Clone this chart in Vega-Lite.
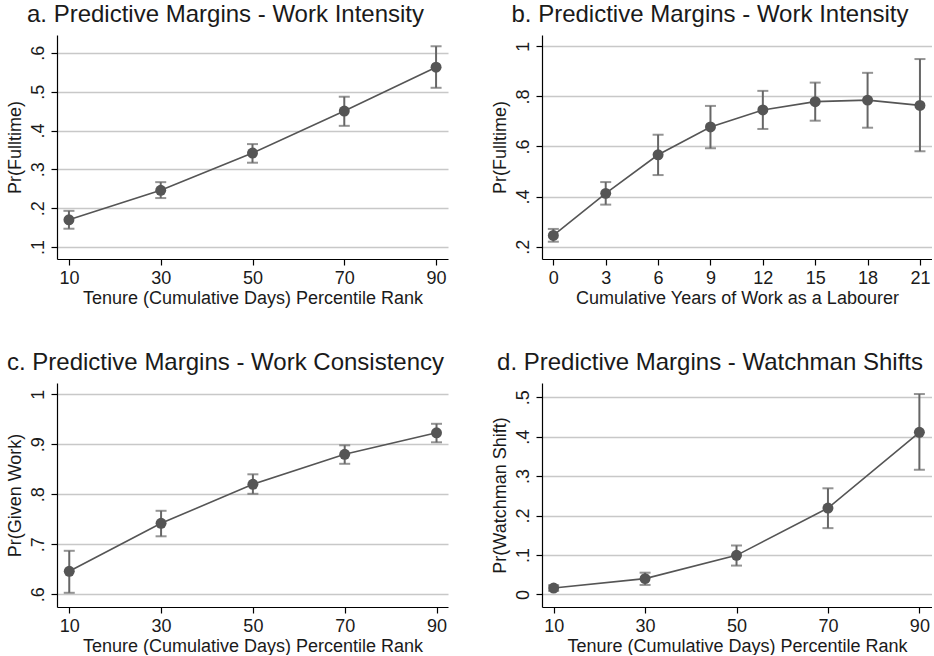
{
  "$schema": "https://vega.github.io/schema/vega-lite/v6.json",
  "background": "white",
  "padding": {"left": 6, "top": 3, "right": 0, "bottom": 0},
  "datasets": {
    "a": [
      {"x": 10, "y": 0.170, "lo": 0.147, "hi": 0.193},
      {"x": 30, "y": 0.246, "lo": 0.226, "hi": 0.267},
      {"x": 50, "y": 0.342, "lo": 0.317, "hi": 0.365},
      {"x": 70, "y": 0.450, "lo": 0.412, "hi": 0.487},
      {"x": 90, "y": 0.563, "lo": 0.510, "hi": 0.617}
    ],
    "b": [
      {"x": 0, "y": 0.245, "lo": 0.220, "hi": 0.271},
      {"x": 3, "y": 0.413, "lo": 0.368, "hi": 0.458},
      {"x": 6, "y": 0.567, "lo": 0.486, "hi": 0.647},
      {"x": 9, "y": 0.678, "lo": 0.593, "hi": 0.762},
      {"x": 12, "y": 0.746, "lo": 0.670, "hi": 0.822},
      {"x": 15, "y": 0.779, "lo": 0.703, "hi": 0.855},
      {"x": 18, "y": 0.785, "lo": 0.675, "hi": 0.894},
      {"x": 21, "y": 0.764, "lo": 0.581, "hi": 0.949}
    ],
    "c": [
      {"x": 10, "y": 0.646, "lo": 0.603, "hi": 0.687},
      {"x": 30, "y": 0.742, "lo": 0.716, "hi": 0.767},
      {"x": 50, "y": 0.820, "lo": 0.801, "hi": 0.840},
      {"x": 70, "y": 0.880, "lo": 0.861, "hi": 0.898},
      {"x": 90, "y": 0.923, "lo": 0.904, "hi": 0.941}
    ],
    "d": [
      {"x": 10, "y": 0.016, "lo": 0.009, "hi": 0.023},
      {"x": 30, "y": 0.040, "lo": 0.024, "hi": 0.055},
      {"x": 50, "y": 0.099, "lo": 0.073, "hi": 0.124},
      {"x": 70, "y": 0.219, "lo": 0.168, "hi": 0.269},
      {"x": 90, "y": 0.411, "lo": 0.316, "hi": 0.508}
    ]
  },
  "columns": 2,
  "spacing": {"row": 124, "column": 94},
  "bounds": "flush",
  "concat": [
    {
      "width": 391, "height": 224,
      "title": {"text": "a. Predictive Margins - Work Intensity"},
      "data": {"name": "a"},
      "encoding": {
        "x": {"field": "x", "type": "quantitative", "title": "Tenure (Cumulative Days) Percentile Rank",
          "scale": {"domain": [7.4, 92.6], "nice": false, "zero": false},
          "axis": {"values": [10, 30, 50, 70, 90]}}
      },
      "layer": [
        {"mark": {"type": "rule", "color": "#666", "strokeWidth": 2},
         "encoding": {"y": {"field": "lo", "type": "quantitative", "title": "Pr(Fulltime)", "scale": {"domain": [0.069, 0.646], "nice": false, "zero": false}, "axis": {"values": [0.1, 0.2, 0.3, 0.4, 0.5, 0.6]}}, "y2": {"field": "hi"}}},
        {"mark": {"type": "tick", "orient": "horizontal", "color": "#666", "size": 11, "thickness": 2},
         "encoding": {"y": {"field": "lo", "type": "quantitative", "title": "Pr(Fulltime)"}}},
        {"mark": {"type": "tick", "orient": "horizontal", "color": "#666", "size": 11, "thickness": 2},
         "encoding": {"y": {"field": "hi", "type": "quantitative", "title": "Pr(Fulltime)"}}},
        {"mark": {"type": "line", "color": "#555", "strokeWidth": 1.6},
         "encoding": {"y": {"field": "y", "type": "quantitative", "title": "Pr(Fulltime)"}}},
        {"mark": {"type": "point", "filled": true, "color": "#555", "size": 120, "opacity": 1},
         "encoding": {"y": {"field": "y", "type": "quantitative", "title": "Pr(Fulltime)"}}}
      ]
    },
    {
      "width": 390, "height": 224,
      "title": {"text": "b. Predictive Margins - Work Intensity"},
      "data": {"name": "b"},
      "encoding": {
        "x": {"field": "x", "type": "quantitative", "title": "Cumulative Years of Work as a Labourer",
          "scale": {"domain": [-0.65, 21.69], "nice": false, "zero": false},
          "axis": {"values": [0, 3, 6, 9, 12, 15, 18, 21]}}
      },
      "layer": [
        {"mark": {"type": "rule", "color": "#666", "strokeWidth": 2},
         "encoding": {"y": {"field": "lo", "type": "quantitative", "title": "Pr(Fulltime)", "scale": {"domain": [0.151, 1.045], "nice": false, "zero": false}, "axis": {"values": [0.2, 0.4, 0.6, 0.8, 1]}}, "y2": {"field": "hi"}}},
        {"mark": {"type": "tick", "orient": "horizontal", "color": "#666", "size": 11, "thickness": 2},
         "encoding": {"y": {"field": "lo", "type": "quantitative", "title": "Pr(Fulltime)"}}},
        {"mark": {"type": "tick", "orient": "horizontal", "color": "#666", "size": 11, "thickness": 2},
         "encoding": {"y": {"field": "hi", "type": "quantitative", "title": "Pr(Fulltime)"}}},
        {"mark": {"type": "line", "color": "#555", "strokeWidth": 1.6},
         "encoding": {"y": {"field": "y", "type": "quantitative", "title": "Pr(Fulltime)"}}},
        {"mark": {"type": "point", "filled": true, "color": "#555", "size": 120, "opacity": 1},
         "encoding": {"y": {"field": "y", "type": "quantitative", "title": "Pr(Fulltime)"}}}
      ]
    },
    {
      "width": 391, "height": 224,
      "title": {"text": "c. Predictive Margins - Work Consistency"},
      "data": {"name": "c"},
      "encoding": {
        "x": {"field": "x", "type": "quantitative", "title": "Tenure (Cumulative Days) Percentile Rank",
          "scale": {"domain": [7.33, 92.5], "nice": false, "zero": false},
          "axis": {"values": [10, 30, 50, 70, 90]}}
      },
      "layer": [
        {"mark": {"type": "rule", "color": "#666", "strokeWidth": 2},
         "encoding": {"y": {"field": "lo", "type": "quantitative", "title": "Pr(Given Work)", "scale": {"domain": [0.5746, 1.0226], "nice": false, "zero": false}, "axis": {"values": [0.6, 0.7, 0.8, 0.9, 1]}}, "y2": {"field": "hi"}}},
        {"mark": {"type": "tick", "orient": "horizontal", "color": "#666", "size": 11, "thickness": 2},
         "encoding": {"y": {"field": "lo", "type": "quantitative", "title": "Pr(Given Work)"}}},
        {"mark": {"type": "tick", "orient": "horizontal", "color": "#666", "size": 11, "thickness": 2},
         "encoding": {"y": {"field": "hi", "type": "quantitative", "title": "Pr(Given Work)"}}},
        {"mark": {"type": "line", "color": "#555", "strokeWidth": 1.6},
         "encoding": {"y": {"field": "y", "type": "quantitative", "title": "Pr(Given Work)"}}},
        {"mark": {"type": "point", "filled": true, "color": "#555", "size": 120, "opacity": 1},
         "encoding": {"y": {"field": "y", "type": "quantitative", "title": "Pr(Given Work)"}}}
      ]
    },
    {
      "width": 390, "height": 224,
      "title": {"text": "d. Predictive Margins - Watchman Shifts"},
      "data": {"name": "d"},
      "encoding": {
        "x": {"field": "x", "type": "quantitative", "title": "Tenure (Cumulative Days) Percentile Rank",
          "scale": {"domain": [7.45, 92.76], "nice": false, "zero": false},
          "axis": {"values": [10, 30, 50, 70, 90]}}
      },
      "layer": [
        {"mark": {"type": "rule", "color": "#666", "strokeWidth": 2},
         "encoding": {"y": {"field": "lo", "type": "quantitative", "title": "Pr(Watchman Shift)", "scale": {"domain": [-0.032, 0.536], "nice": false, "zero": false}, "axis": {"values": [0, 0.1, 0.2, 0.3, 0.4, 0.5]}}, "y2": {"field": "hi"}}},
        {"mark": {"type": "tick", "orient": "horizontal", "color": "#666", "size": 11, "thickness": 2},
         "encoding": {"y": {"field": "lo", "type": "quantitative", "title": "Pr(Watchman Shift)"}}},
        {"mark": {"type": "tick", "orient": "horizontal", "color": "#666", "size": 11, "thickness": 2},
         "encoding": {"y": {"field": "hi", "type": "quantitative", "title": "Pr(Watchman Shift)"}}},
        {"mark": {"type": "line", "color": "#555", "strokeWidth": 1.6},
         "encoding": {"y": {"field": "y", "type": "quantitative", "title": "Pr(Watchman Shift)"}}},
        {"mark": {"type": "point", "filled": true, "color": "#555", "size": 120, "opacity": 1},
         "encoding": {"y": {"field": "y", "type": "quantitative", "title": "Pr(Watchman Shift)"}}}
      ]
    }
  ],
  "config": {
    "view": {"stroke": null},
    "font": "Liberation Sans",
    "title": {"font": "Liberation Sans", "fontSize": 24, "fontWeight": "normal", "color": "#1a1a1a", "anchor": "middle", "offset": 8, "dx": -27},
    "axis": {
      "domainColor": "#000", "domainWidth": 1.2,
      "tickColor": "#000", "tickSize": 6, "tickWidth": 1.2,
      "labelFont": "Liberation Sans", "labelFontSize": 18, "labelColor": "#1a1a1a",
      "titleFont": "Liberation Sans", "titleFontSize": 18, "titleFontWeight": "normal", "titleColor": "#1a1a1a"
    },
    "axisX": {"grid": false, "labelPadding": 4, "titlePadding": 2, "labelFlush": false},
    "axisY": {"grid": true, "gridColor": "#c8c8c8", "gridWidth": 1.5, "labelAngle": -90, "labelPadding": 4, "titlePadding": 5,
      "labelExpr": "datum.value == 0 ? '0' : datum.value >= 1 ? '1' : '.' + format(datum.value * 10, 'd')"}
  }
}
